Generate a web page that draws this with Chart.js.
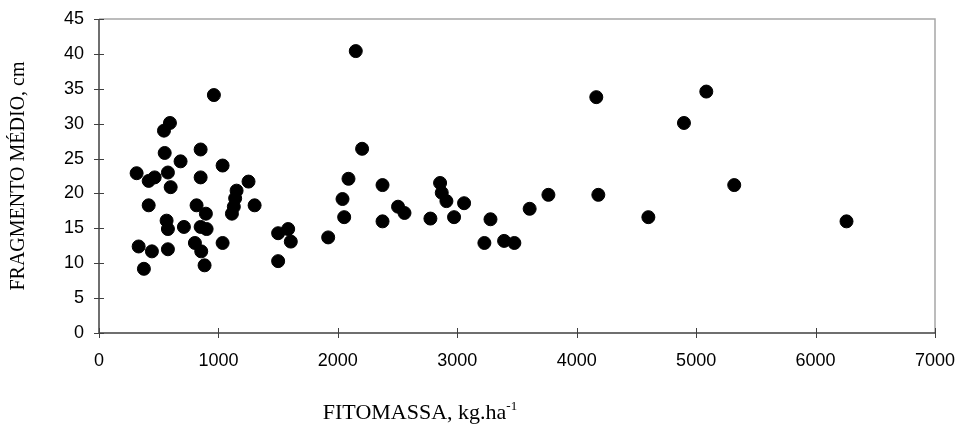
<!DOCTYPE html>
<html>
<head>
<meta charset="utf-8">
<script src="https://cdn.jsdelivr.net/npm/chart.js@4.4.0/dist/chart.umd.min.js"></script>
<style>
  html, body { margin: 0; padding: 0; background: #ffffff; }
  #wrap { width: 963px; height: 425px; position: relative; }
</style>
</head>
<body>
<div id="wrap"><canvas id="c" width="963" height="425"></canvas></div>
<script>
// Data
const fitomassa = [
  594, 544, 550, 851, 683, 1035, 315, 416, 466, 577,
  600, 851, 1252, 1152, 1140, 1129, 1113, 416, 817, 895,
  1303, 566, 577, 711, 851, 901, 803, 856, 1035, 332,
  443, 577, 884, 376, 1500, 1500, 962,
  2203, 2089, 2374, 2039, 2053, 2374, 2504, 2558, 2775, 2856,
  2870, 2909, 3057, 2973, 1919, 1584, 1606, 2150,
  4164, 3763, 4181, 3606, 4600, 3278, 3227, 3392, 3478,
  5085, 4898, 5319, 6259
];
const fragmento = [
  30.1, 29.0, 25.8, 26.3, 24.6, 24.0, 22.9, 21.8, 22.3, 23.0,
  20.9, 22.3, 21.7, 20.4, 19.3, 18.1, 17.1, 18.3, 18.3, 17.1,
  18.3, 16.1, 14.9, 15.2, 15.2, 14.9, 12.9, 11.7, 12.9, 12.4,
  11.7, 12.0, 9.7, 9.2, 14.3, 10.3, 34.1,
  26.4, 22.1, 21.2, 19.2, 16.6, 16.0, 18.1, 17.2, 16.4, 21.5,
  20.1, 18.9, 18.6, 16.6, 13.7, 14.9, 13.1, 40.4,
  33.8, 19.8, 19.8, 17.8, 16.6, 16.3, 12.9, 13.2, 12.9,
  34.6, 30.1, 21.2, 16.0
];
const xTicks = [0, 1000, 2000, 3000, 4000, 5000, 6000, 7000];
const yTicks = [0, 5, 10, 15, 20, 25, 30, 35, 40, 45];
const xTitle = "FITOMASSA, kg.ha";
const xTitleSup = "-1";
const yTitle = "FRAGMENTO MÉDIO, cm";

const points = fitomassa.map((x, i) => ({ x: x, y: fragmento[i] }));

const decor = {
  id: 'decor',
  afterDraw(chart) {
    const ctx = chart.ctx;
    const a = chart.chartArea;
    const xs = chart.scales.x, ys = chart.scales.y;
    ctx.save();
    // plot area top & right border (gray)
    ctx.strokeStyle = '#a6a6a6';
    ctx.lineWidth = 1.5;
    ctx.beginPath();
    ctx.moveTo(a.left, a.top);
    ctx.lineTo(a.right, a.top);
    ctx.lineTo(a.right, a.bottom);
    ctx.stroke();
    // axes lines
    ctx.strokeStyle = '#404040';
    ctx.lineWidth = 1.5;
    ctx.beginPath();
    ctx.moveTo(a.left, a.top);
    ctx.lineTo(a.left, a.bottom);
    ctx.lineTo(a.right, a.bottom);
    ctx.stroke();
    // cross tick marks
    ctx.lineWidth = 1;
    ctx.beginPath();
    xTicks.forEach(v => {
      const px = Math.round(xs.getPixelForValue(v)) + 0.5;
      ctx.moveTo(px, a.bottom - 5);
      ctx.lineTo(px, a.bottom + 5);
    });
    yTicks.forEach(v => {
      const py = Math.round(ys.getPixelForValue(v)) + 0.5;
      ctx.moveTo(a.left - 5, py);
      ctx.lineTo(a.left + 5, py);
    });
    ctx.stroke();
    // y title
    ctx.fillStyle = '#000000';
    ctx.font = '20px "Liberation Serif", "Times New Roman", serif';
    ctx.textAlign = 'center';
    ctx.textBaseline = 'middle';
    ctx.save();
    ctx.translate(19, (a.top + a.bottom) / 2);
    ctx.rotate(-Math.PI / 2);
    ctx.fillText(yTitle, 0, 0);
    ctx.restore();
    // x title with superscript
    ctx.textAlign = 'left';
    ctx.textBaseline = 'alphabetic';
    const mainFont = '22px "Liberation Serif", "Times New Roman", serif';
    const supFont = '13px "Liberation Serif", "Times New Roman", serif';
    ctx.font = mainFont;
    const w1 = ctx.measureText(xTitle).width;
    ctx.font = supFont;
    const w2 = ctx.measureText(xTitleSup).width;
    const total = w1 + w2;
    const cx = 420;
    const baseY = 419;
    ctx.font = mainFont;
    ctx.fillText(xTitle, cx - total / 2, baseY);
    ctx.font = supFont;
    ctx.fillText(xTitleSup, cx - total / 2 + w1, baseY - 9);
    ctx.restore();
  }
};

new Chart(document.getElementById('c'), {
  type: 'scatter',
  data: {
    datasets: [{
      data: points,
      backgroundColor: '#000000',
      borderColor: '#000000',
      borderWidth: 1,
      pointRadius: 6.5,
      pointHoverRadius: 6.5
    }]
  },
  options: {
    responsive: false,
    animation: false,
    events: [],
    plugins: { legend: { display: false }, tooltip: { enabled: false } },
    layout: { padding: { left: 0, top: 19, right: 28, bottom: 0 } },
    scales: {
      x: {
        type: 'linear',
        min: 0, max: 7000,
        afterBuildTicks: (s) => { s.ticks = xTicks.map(v => ({ value: v })); },
        afterFit: (s) => { s.height = 92; s.paddingLeft = 0; s.paddingRight = 0; },
        grid: { display: false, drawTicks: false },
        border: { display: false },
        ticks: {
          color: '#000000',
          padding: 17,
          maxRotation: 0,
          callback: (v) => String(v),
          font: { family: '"Liberation Sans", Arial, sans-serif', size: 18 }
        }
      },
      y: {
        type: 'linear',
        min: 0, max: 45,
        afterBuildTicks: (s) => { s.ticks = yTicks.map(v => ({ value: v })); },
        afterFit: (s) => { s.width = 99; s.paddingTop = 0; s.paddingBottom = 0; },
        grid: { display: false, drawTicks: false },
        border: { display: false },
        ticks: {
          color: '#000000',
          padding: 15,
          callback: (v) => String(v),
          font: { family: '"Liberation Sans", Arial, sans-serif', size: 18 }
        }
      }
    }
  },
  plugins: [decor]
});
</script>
</body>
</html>
